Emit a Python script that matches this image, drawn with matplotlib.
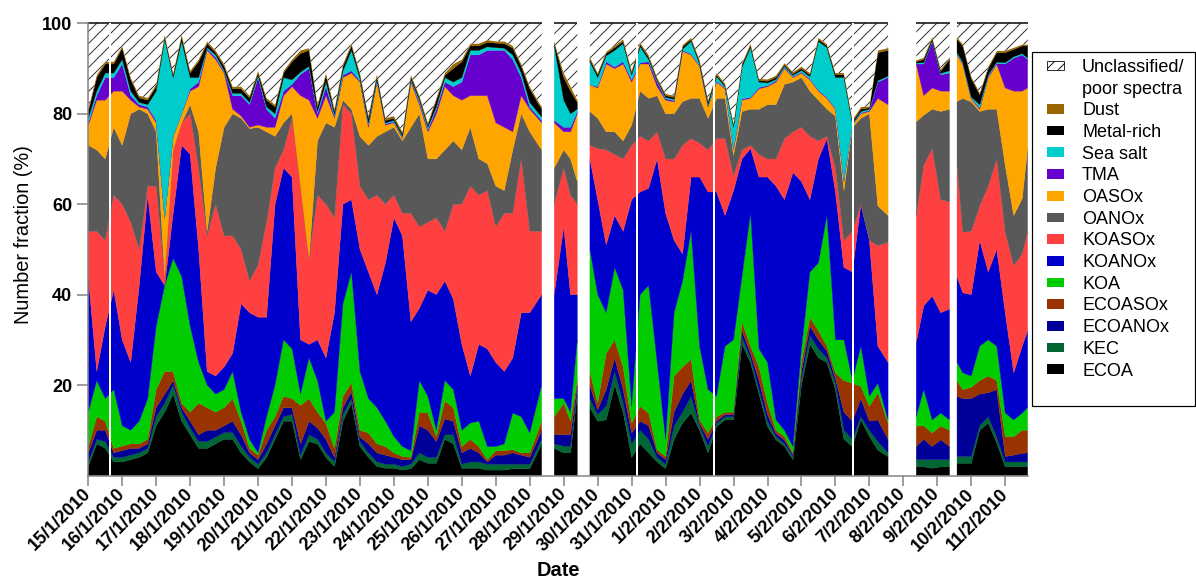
import numpy as np
import matplotlib
matplotlib.use("Agg")
import matplotlib.pyplot as plt
from matplotlib.patches import Patch, Rectangle

plt.rcParams['font.family'] = ['Liberation Sans', 'DejaVu Sans']
plt.rcParams['hatch.linewidth'] = 0.9

nan = np.nan

# sample times, days after 15/1/2010 00:00 (nan rows mark missing data)
day = np.r_[np.arange(0, 13.01, 0.25), 13.35, 13.5,
            13.72, 14.0, 14.2, 14.4, 14.6,
            14.77, np.arange(15, 23.26, 0.25), 23.55, 24.0,
            24.38, 24.6, 24.85, 25.1, 25.36, 25.47,
            25.58, np.arange(25.75, 27.51, 0.25), 27.66]

# short single-sample data gaps (days)
short_gaps = [0.64, 16.166, 18.43, 22.53]

date_labels = ['15/1/2010', '16/1/2010', '17/1/2010', '18/1/2010', '19/1/2010',
               '20/1/2010', '21/1/2010', '22/1/2010', '23/1/2010', '24/1/2010',
               '25/1/2010', '26/1/2010', '27/1/2010', '28/1/2010', '29/1/2010',
               '30/1/2010', '31/1/2010', '1/2/2010', '2/2/2010', '3/2/2010',
               '4/2/2010', '5/2/2010', '6/2/2010', '7/2/2010', '8/2/2010',
               '9/2/2010', '10/2/2010', '11/2/2010']

# number fractions (%) of each particle class
ecoa = [2, 7, 6, 3, 3, 3.5, 4, 5, 11, 14, 18, 12, 9, 6, 6, 7, 8, 8, 5, 3, 1.5, 4, 8, 12, 12, 3.5, 7.5, 7, 4, 2,
        12, 16, 6.4, 4, 2, 1.6, 1.6, 1.2, 1.5, 3.5, 2.7, 2.7, 8, 7, 1.6, 1.6, 1.6, 1.2, 1.2, 1.2, 1.5, 1.5, 1.5, 7, nan,
        6, 5, 5, 18, nan,
        15, 12, 12.3, 20, 14, 4, 7, 5, 3, 1.5, 8, 11.6, 13.8, 10, 5, 10.8, 12.3, 12.3, 29, 25, 18, 10.8, 7.9, 6.4,
        3.5, 20, 29, 26, 25, 19, 8, 6.4, 12.3, 8.6, 5.6, 4.2, nan,
        1.9, 1.9, 1.6, 1.9, 1.9, nan,
        2.7, 2.7, 2.7, 10, 11.6, 7.2, 1.9, 1.9, 1.9, 1.9]
kec = [1, 1, 1.5, 1, 1, 1, 1, 1, 2, 2, 2, 2, 1.5, 1.5, 1.5, 1.5, 1.5, 1.5, 1.5, 1, 1, 1, 1, 1, 1.5, 1, 1.5, 1, 1, 1,
       1.5, 1, 1.1, 1, 1, 0.9, 0.9, 0.8, 1, 1.5, 1.3, 1.3, 1, 2, 0.9, 1.4, 1.4, 1.3, 1.3, 1.3, 1, 1, 1, 1, nan,
       1, 1.5, 1.5, 1, nan,
       2, 1.5, 3, 3, 2, 3, 3, 3, 1, 1, 3, 2.4, 3.7, 1, 1.4, 0.7, 0.7, 0.7, 1.5, 1, 1, 1.2, 0.7, 0.6, 0.7, 1.5,
       2, 2, 1, 1.5, 2, 1.6, 0.7, 1.4, 1.9, 0.8, nan,
       1.6, 1.6, 1.9, 1.6, 1.6, nan,
       1.5, 1.5, 1.5, 1, 1.4, 1.3, 1.1, 1.1, 1.1, 1.1]
ecoanox = [2, 2, 2.5, 1, 1.5, 1.5, 1, 1, 2, 2, 1, 1, 1.5, 1.5, 2.5, 1.5, 1.5, 2.5, 2.5, 1, 1, 2, 2, 2, 1.5, 2.5, 3, 2.5, 3, 1,
           1.5, 1.5, 1, 2, 2, 2, 1.5, 1.5, 1, 6, 6, 3.5, 3.5, 3, 2.5, 3, 2, 0.5, 2, 2, 2.5, 2, 1.5, 2, nan,
           2, 2.5, 2.5, 1, nan,
           3, 1, 3.7, 3, 3, 2.4, 2, 3, 1, 1, 3, 4, 3.5, 0.5, 1.6, 0.5, 0.5, 0.5, 1.5, 1, 2, 1.5, 0.7, 0.8, 0.4, 1.5,
           2, 2, 1.5, 1, 4, 4, 4, 2, 4.8, 3, nan,
           2.9, 4.5, 2.9, 4.4, 2.9, nan,
           13.3, 12.8, 12.8, 7, 5.3, 10.5, 1.2, 1.5, 1.9, 2]
ecoasox = [1.4, 3, 2, 1, 1, 1, 1, 1, 4, 5, 2, 1, 2, 7, 5, 4, 4, 5, 3, 1, 1, 3, 2, 2.5, 2, 8.5, 5, 3.5, 3.5, 2,
           2.5, 2, 1.5, 2.4, 2, 1.9, 1, 0.7, 0.5, 3, 3.8, 1.1, 4, 3, 1.4, 2, 1.4, 0.5, 1, 1, 0.7, 0.5, 1, 2, nan,
           4, 7, 3, 1, nan,
           3, 1.5, 8, 4, 5, 2.2, 3.3, 2.8, 0.7, 0.7, 8, 6, 4.7, 0.8, 1.4, 1, 0.5, 0.5, 2, 1.6, 3, 2.5, 0.7, 0.8, 0.4, 2,
           2, 2, 1.1, 1.2, 7, 8.4, 2.7, 3.3, 6, 3.6, nan,
           4.5, 3, 3, 3, 3.6, nan,
           3.5, 2, 2.5, 3, 3.7, 2, 4.4, 4.1, 5.1, 5]
koa = [7.6, 8, 5, 13, 4.5, 3, 5, 9, 14, 19, 25, 28, 19, 9, 5, 4, 4, 6, 2, 2, 0.5, 3, 7, 12.5, 11, 2.5, 9, 7, 0.5, 8,
       20.5, 24.5, 13, 7.6, 8, 5.6, 3.6, 2.2, 1.5, 7, 3.7, 1.4, 4.5, 4, 3.6, 3.6, 5.6, 2.9, 0.9, 1.5, 8.1, 8, 4.4, 8, nan,
       4, 1, 2, 9, nan,
       27, 24, 9, 16, 17, 3.7, 24.7, 28.2, 19.3, 3.8, 14, 19, 28.3, 16.3, 9.6, 4.5, 14.6, 16, 10, 29.4, 4, 9, 2.3, 1.4,
       1.4, 3, 10, 15, 28.9, 7.3, 9, 0.6, 8.9, 2.2, 2.1, 0.7, nan,
       2.1, 8, 2.9, 2.9, 2.3, nan,
       4, 3.7, 2.5, 7.6, 8, 7.6, 5.2, 3.7, 3.8, 5]
koanox = [30, 2, 16, 22, 19, 15, 30, 45, 12, 0, 10, 29, 38, 25, 3, 4, 5, 4, 24, 28, 30, 22, 40, 38, 38, 12, 3, 9, 14, 22,
          22, 16, 27, 28, 25, 35, 48.4, 46.6, 28.5, 16, 23.5, 30, 22, 20, 19, 10.4, 17, 21.6, 18.6, 16, 12.2, 23, 26.6, 20, nan,
          23, 38, 26, 10, nan,
          20, 21, 15, 11.5, 13, 45.7, 22.7, 21.5, 45, 50, 16, 6, 12, 37.4, 43.7, 45.2, 28.9, 33, 26, 14.3, 38, 41, 51.7,
          51, 60.6, 37, 16, 23, 17, 32.7, 16, 24, 31.4, 34.5, 8.2, 12.7, nan,
          16.4, 18.5, 27.4, 22.2, 24.5, nan,
          19, 17.7, 18, 23.4, 15, 21.4, 22.2, 10.4, 14.8, 17]
koasox = [10, 31, 19, 21, 30, 31, 8, 2, 19, 2, 14, 5, 9, 18, 30, 38, 29, 26, 12, 7, 11.6, 21, 8, 4, 13, 34, 19, 32, 34, 21,
          22, 19, 14, 16, 22, 13, 5, 5, 24, 18, 15, 17, 11, 21, 31, 42, 33, 35, 30, 35, 32, 34, 18, 14, nan,
          20, 13, 22, 20, nan,
          3, 11.3, 21, 13.5, 16, 12, 12.3, 10.5, 6, 12, 18, 24, 8.5, 7.5, 9.3, 11.8, 17, 3.4, 2, 0.7, 5, 4, 6, 13.5, 9,
          12, 14, 4, 0.5, 5.3, 6, 9, 0, 0, 22.2, 26.6, nan,
          28.1, 31.1, 32.6, 25, 23.7, nan,
          24.6, 13.4, 14, 7.6, 19, 20, 17.8, 23.7, 20.4, 21.8]
oanox = [19, 18, 18, 15, 13, 24, 31, 16, 12, 0, 0, 0, 2, 8, 1, 8, 24, 27, 29, 33.7, 30.4, 20, 7, 6, 1, 0, 0, 12, 18, 20,
         1, 1, 11, 12, 13, 16, 15, 16, 19, 25, 14, 13, 18, 14, 12, 13, 8, 6, 9, 5, 14, 10, 22, 18, nan,
         8, 4, 8, 5, nan,
         7.5, 6.7, 4, 5, 4, 4.5, 10, 9.4, 8, 10, 10, 9.7, 8.9, 9.9, 7, 8.9, 8.9, 4.4, 8.5, 8, 10, 12, 12, 12, 11, 11,
         10, 9, 6, 11.5, 11, 23, 19, 28, 8.8, 5.9, nan,
         20.7, 11.1, 8.7, 19.5, 20.5, nan,
         14.1, 29.6, 28.6, 20.9, 17, 11, 14.8, 11.1, 12.2, 18.5]
oasox = [4.5, 11, 13, 8, 12, 3, 0.5, 1, 2, 13, 3, 2, 3, 10, 40, 24, 12, 1, 0.5, 0.3, 0.5, 1, 2, 6, 6, 20, 35, 5, 6, 2,
         5, 8, 12, 4, 12, 1.5, 1, 0.5, 10, 2, 6, 10, 14, 10, 11, 7, 14, 15, 14, 14, 4, 4, 5, 6, nan,
         10, 4, 6, 15, nan,
         5.9, 6.7, 15, 14, 17, 9.5, 6, 7.6, 2, 3, 2.6, 11.1, 9.6, 7.1, 2.5, 3.6, 2.1, 1.2, 2.5, 2.4, 4.5, 4, 5, 3.5, 1,
         1, 2.5, 2, 2.4, 1.5, 2, 0.5, 1, 0.5, 23.8, 24.5, nan,
         12.7, 4.3, 4.7, 4.5, 4, nan,
         10.3, 7.5, 0.6, 0.5, 7, 9.9, 17.1, 27.5, 23.8, 13.4]
tma = [0.5, 1, 5, 3, 6, 1, 0.5, 0.5, 0.5, 0, 0, 0, 0.5, 1, 0.3, 0.5, 0.3, 3, 4.5, 5, 10.5, 4, 2, 1, 0.5, 4.7, 7, 1, 2, 0.3,
       0.5, 0.5, 0.3, 0.5, 0.3, 0.3, 0.2, 0.2, 0.3, 0.5, 0.5, 1, 1, 2, 4, 9, 9, 10, 16, 17, 16, 4, 0.5, 0.5, nan,
       0.5, 1, 1, 0.5, nan,
       0, 0.3, 0.5, 0.3, 0.5, 0.5, 0.2, 0.5, 1, 0.3, 0.3, 0.2, 0.2, 0.2, 0.2, 0.2, 0.2, 0.2, 0.3, 0.2, 0.3, 0.2, 0.3,
       0.2, 0.2, 0.2, 0.2, 0.2, 0.2, 0.2, 0.2, 0.1, 0.2, 0.2, 3.6, 6, nan,
       0.1, 7, 10.3, 3.6, 4, nan,
       0.2, 0.2, 0.2, 0.3, 0.3, 0.2, 5.3, 7.3, 8, 6.3]
sea_salt = [1, 1, 1, 1, 1, 1, 0.5, 0.5, 6.5, 39.5, 13, 16, 2.5, 1, 0.3, 0.5, 0.3, 0.5, 0.5, 0.5, 0.5, 0.5, 1, 3, 1, 0.5, 0.5,
            0.5, 1, 0.5, 1, 4.5, 0.5, 0.5, 0.4, 0.2, 0.3, 0.3, 0.3, 0.5, 0.5, 0.5, 1, 1, 1, 1, 1, 0.8, 0.6, 0.5, 1, 1,
            1, 0.8, nan,
            16.5, 6, 3, 0.5, nan,
            5.1, 2, 1.3, 3.7, 4, 1, 3.6, 0.5, 0.3, 0.3, 0.3, 0.3, 2.8, 0.3, 0.3, 1, 0.3, 4.8, 7, 11, 1.2, 0.6, 0.3, 0.3,
            0.3, 0.4, 0.5, 10.8, 11, 6.8, 22.8, 0.2, 0.3, 0.3, 0.3, 0.3, nan,
            0.2, 0.3, 0.2, 0.3, 0.5, nan,
            0.3, 0.3, 0.3, 0.7, 0.3, 0.3, 0.3, 0.3, 0.3, 0.3]
metal_rich = [1.5, 3, 2, 2, 2.5, 2.5, 1, 1, 1, 0.5, 0.5, 1, 1, 3.5, 0.9, 0.5, 0.9, 1, 1, 1, 0.5, 1.5, 1.5, 1, 4, 4.1, 3.5,
              1, 1.5, 0.7, 1, 1, 0.7, 1, 0.6, 0.5, 0.5, 0.5, 0.6, 0.5, 0.5, 1.5, 0.5, 3, 3.5, 1, 1, 1, 1, 1, 1.5, 1.5,
              3, 1.7, nan,
              0.5, 5, 5, 1.5, nan,
              0.5, 0.6, 0.5, 0.6, 0.5, 0.5, 0.5, 0.5, 0.3, 0.4, 0.4, 0.5, 0.4, 0.5, 0.6, 0.4, 0.3, 0.4, 0.5, 0.5, 0.3,
              0.4, 0.4, 0.3, 0.3, 0.4, 0.4, 0.4, 0.4, 0.6, 0.6, 0.4, 0.5, 0.3, 6.2, 5.7, nan,
              0.3, 0.7, 0.4, 0.5, 2.5, nan,
              3, 3.6, 4.1, 2.2, 1.4, 2.1, 2.2, 1.6, 1.7, 2.7]
dust = [0.5, 0.6, 0.5, 0.5, 0.5, 0.5, 0.5, 0.5, 0.5, 0.5, 0.5, 0.5, 0.5, 0.5, 0.5, 0.5, 0.5, 0.5, 0.5, 0.5, 0.5, 0.5,
        0.5, 0.5, 0.5, 0.7, 0.5, 0.5, 0.5, 0.5, 0.5, 0.5, 0.5, 0.5, 0.5, 0.5, 0.5, 0.5, 0.4, 0.5, 0.5, 0.5, 0.5, 1,
        0.5, 0.5, 0.5, 0.5, 0.4, 0.5, 0.5, 0.5, 0.5, 0.5, nan,
        0.5, 1, 1, 0.5, nan,
        0.5, 0.4, 0.4, 0.4, 0.5, 0.5, 0.4, 0.5, 0.4, 0.4, 0.4, 0.4, 0.4, 0.4, 0.4, 0.4, 0.4, 0.4, 0.4, 0.4, 0.4, 0.4,
        0.4, 0.4, 0.4, 0.4, 0.4, 0.4, 0.4, 0.4, 0.4, 0.4, 0.5, 0.3, 0.5, 0.5, nan,
        0.3, 0.4, 0.4, 0.4, 0.4, nan,
        0.4, 0.4, 0.4, 0.4, 0.4, 0.4, 0.4, 0.4, 0.3, 0.3]

classes = ['ECOA', 'KEC', 'ECOANOx', 'ECOASOx', 'KOA', 'KOANOx', 'KOASOx',
           'OANOx', 'OASOx', 'TMA', 'Sea salt', 'Metal-rich', 'Dust']
values = [ecoa, kec, ecoanox, ecoasox, koa, koanox, koasox,
          oanox, oasox, tma, sea_salt, metal_rich, dust]
colors = ['#000000', '#006633', '#000099', '#993300', '#00CC00', '#0000CC', '#FF4040',
          '#595959', '#FFA500', '#6600CC', '#00CCCC', '#000000', '#996600']

for name, v in zip(classes, values):
    if len(v) != len(day):
        raise ValueError(f"{name}: {len(v)} values for {len(day)} times")

series = [np.asarray(v, float) for v in values]

W, H, DPI = 1196, 581, 72
fig = plt.figure(figsize=(W / DPI, H / DPI), dpi=DPI)
L, R, T, B = 88.3, 1028.0, 23.3, 475.5
ax = fig.add_axes([L / W, 1 - B / H, (R - L) / W, (B - T) / H])

ax.stackplot(day, *series, colors=colors, edgecolor='face', linewidth=0.3)
top = np.sum(series, axis=0)
ax.fill_between(day, top, 100, facecolor='white', edgecolor='#222222',
                hatch='//', linewidth=0)
ax.plot(day, np.where(np.isnan(top), nan, 100.0), color='black', lw=1.5,
        clip_on=False, solid_capstyle='butt')
for g in short_gaps:
    ax.axvline(g, color='white', lw=2)

ax.set_xlim(0, 27.67)
ax.set_ylim(0, 100)
ax.set_yticks([20, 40, 60, 80, 100])
ax.set_xticks(np.arange(len(date_labels)))
ax.set_xticklabels(date_labels, rotation=45, ha='right', va='center',
                   rotation_mode='anchor')
for lab in ax.get_xticklabels() + ax.get_yticklabels():
    lab.set_fontweight('bold')
    lab.set_fontsize(18)
ax.tick_params(axis='both', direction='out', color='#808080', width=1.5)
ax.tick_params(axis='x', length=10, pad=6)
ax.tick_params(axis='y', length=11, pad=5)
for s in ['top', 'right']:
    ax.spines[s].set_visible(False)
for s in ['left', 'bottom']:
    ax.spines[s].set_color('#808080')
    ax.spines[s].set_linewidth(1.5)

ax.set_ylabel('Number fraction (%)', fontsize=20)
ax.yaxis.set_label_coords(-0.059, 0.532)
ax.set_xlabel('Date', fontsize=20, fontweight='bold')
ax.xaxis.set_label_coords(0.5, -0.19)

handles = [Patch(facecolor='white', edgecolor='black', hatch='//', lw=0.8),
           Patch(facecolor='none', edgecolor='none')]
labels = ['Unclassified/', 'poor spectra']
for name, c in zip(classes[::-1], colors[::-1]):
    handles.append(Patch(facecolor=c, edgecolor='none'))
    labels.append(name)
leg = fig.legend(handles, labels, loc='upper left',
                 bbox_to_anchor=(1047 / W, 1 - 59 / H), frameon=False,
                 fontsize=18, handlelength=0.95, handleheight=0.45,
                 handletextpad=1.0, labelspacing=0.26, borderpad=0, borderaxespad=0)
fig.add_artist(Rectangle((1032 / W, 1 - 406 / H), (1195 - 1032) / W, (406 - 52) / H,
                         transform=fig.transFigure, fill=False, edgecolor='black', lw=1.2))

fig.savefig('out.png', dpi=DPI, facecolor='white')
